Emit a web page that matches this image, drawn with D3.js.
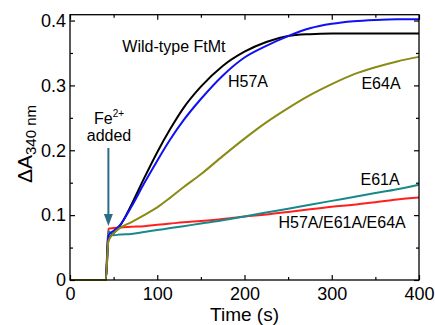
<!DOCTYPE html>
<html>
<head>
<meta charset="utf-8">
<script src="https://cdn.jsdelivr.net/npm/d3@7"></script>
<style>
  body { margin: 0; background: #fff; }
  text { font-family: "Liberation Sans", Arial, Helvetica, sans-serif; }
</style>
</head>
<body>
<svg id="chart" width="435" height="325"></svg>
<script>
// time (s) shared by all traces
const time = [0, 41, 44, 50, 57, 70, 85, 100, 115, 130, 150, 175, 200, 225, 250, 275, 300, 325, 350, 375, 400];

const wildType = [0, 0, 0.062, 0.072, 0.083, 0.115, 0.157, 0.197, 0.233, 0.265, 0.298, 0.330, 0.352, 0.367, 0.376, 0.379, 0.380, 0.380, 0.380, 0.380, 0.380];
const h57a     = [0, 0, 0.068, 0.076, 0.084, 0.112, 0.149, 0.184, 0.217, 0.246, 0.279, 0.315, 0.343, 0.361, 0.376, 0.388, 0.395, 0.399, 0.401, 0.402, 0.402];
const e64a     = [0, 0, 0.060, 0.072, 0.080, 0.089, 0.100, 0.112, 0.127, 0.143, 0.163, 0.191, 0.218, 0.243, 0.265, 0.285, 0.302, 0.317, 0.328, 0.337, 0.344];
const e61a     = [0, 0, 0.075, 0.069, 0.070, 0.071, 0.074, 0.077, 0.080, 0.083, 0.087, 0.092, 0.098, 0.104, 0.110, 0.116, 0.122, 0.128, 0.134, 0.140, 0.147];
const triple   = [0, 0, 0.079, 0.080, 0.081, 0.082, 0.083, 0.085, 0.087, 0.089, 0.091, 0.094, 0.098, 0.101, 0.105, 0.109, 0.113, 0.116, 0.120, 0.124, 0.127];

const xMajor = [0, 100, 200, 300, 400];
const xMinor = [50, 150, 250, 350];
const yMajor = [0, 0.1, 0.2, 0.3, 0.4];
const yMinor = [0.05, 0.15, 0.25, 0.35];

const series = [
  { name: "H57A/E61A/E64A", values: triple, color: "#ff1f1f" },
  { name: "E61A", values: e61a, color: "#17898a" },
  { name: "Wild-type FtMt", values: wildType, color: "#000000" },
  { name: "H57A", values: h57a, color: "#1010f5" },
  { name: "E64A", values: e64a, color: "#8a8a14" }
];

const svg = d3.select("#chart");
const plotL = 70, plotR = 419, plotT = 14.7, plotB = 280;

const x = d3.scaleLinear().domain([0, 400]).range([plotL, plotR]);
const y = d3.scaleLinear().domain([0, 0.409]).range([plotB, plotT]);

// traces
const line = d3.line()
  .x((d, i) => x(time[i]))
  .y(d => y(d))
  .curve(d3.curveMonotoneX);

svg.append("g")
  .selectAll("path")
  .data(series)
  .enter().append("path")
  .attr("d", d => line(d.values))
  .attr("fill", "none")
  .attr("stroke", d => d.color)
  .attr("stroke-width", 2);

// axes, ticks pointing inward on all four sides
function styleAxis(g) {
  g.select(".domain").remove();
  g.selectAll(".tick line").attr("stroke", "#000").attr("stroke-width", 1.2);
  g.selectAll("text").attr("font-size", 18).attr("fill", "#000")
    .attr("font-family", "Liberation Sans, Arial, sans-serif");
}

svg.append("g").attr("transform", `translate(0,${plotB})`)
  .call(d3.axisBottom(x).tickValues(xMajor).tickSize(-5).tickPadding(7).tickFormat(d3.format("d")))
  .call(styleAxis);
svg.append("g").attr("transform", `translate(0,${plotB})`)
  .call(d3.axisBottom(x).tickValues(xMinor).tickSize(-3).tickFormat(""))
  .call(styleAxis);
svg.append("g").attr("transform", `translate(0,${plotT})`)
  .call(d3.axisTop(x).tickValues(xMajor).tickSize(-5).tickFormat(""))
  .call(styleAxis);
svg.append("g").attr("transform", `translate(0,${plotT})`)
  .call(d3.axisTop(x).tickValues(xMinor).tickSize(-3).tickFormat(""))
  .call(styleAxis);

svg.append("g").attr("transform", `translate(${plotL},0)`)
  .call(d3.axisLeft(y).tickValues(yMajor).tickSize(-5).tickPadding(4).tickFormat(d => d === 0 ? "0" : d3.format(".1f")(d)))
  .call(styleAxis);
svg.append("g").attr("transform", `translate(${plotL},0)`)
  .call(d3.axisLeft(y).tickValues(yMinor).tickSize(-3).tickFormat(""))
  .call(styleAxis);
svg.append("g").attr("transform", `translate(${plotR},0)`)
  .call(d3.axisRight(y).tickValues(yMajor).tickSize(-5).tickFormat(""))
  .call(styleAxis);
svg.append("g").attr("transform", `translate(${plotR},0)`)
  .call(d3.axisRight(y).tickValues(yMinor).tickSize(-3).tickFormat(""))
  .call(styleAxis);

svg.append("rect")
  .attr("x", plotL).attr("y", plotT)
  .attr("width", plotR - plotL).attr("height", plotB - plotT)
  .attr("fill", "none").attr("stroke", "#000").attr("stroke-width", 1.3);

// axis titles
svg.append("text")
  .attr("x", (plotL + plotR) / 2).attr("y", 321)
  .attr("text-anchor", "middle").attr("font-size", 19)
  .text("Time (s)");

const yTitle = svg.append("text")
  .attr("transform", "translate(32,144) rotate(-90)")
  .attr("text-anchor", "middle");
yTitle.append("tspan").attr("font-size", 21).text("ΔA");
yTitle.append("tspan").attr("font-size", 15).attr("dy", 4).text("340 nm");

// curve labels
const labels = [
  { text: "Wild-type FtMt", t: 60, v: 0.352 },
  { text: "H57A", t: 181, v: 0.298 },
  { text: "E64A", t: 334, v: 0.295 },
  { text: "E61A", t: 333, v: 0.146 },
  { text: "H57A/E61A/E64A", t: 239, v: 0.080 }
];
svg.append("g")
  .selectAll("text")
  .data(labels)
  .enter().append("text")
  .attr("x", d => x(d.t)).attr("y", d => y(d.v))
  .attr("font-size", 16)
  .text(d => d.text);

// Fe2+ added annotation
const arrowColor = "#2b6d88";
const fe = svg.append("text").attr("x", 109).attr("y", 124).attr("text-anchor", "middle");
fe.append("tspan").attr("font-size", 16).text("Fe");
fe.append("tspan").attr("font-size", 10).attr("dy", -7).text("2+");
svg.append("text").attr("x", 109).attr("y", 141).attr("text-anchor", "middle")
  .attr("font-size", 16).text("added");

const arrowT = 44;
svg.append("line")
  .attr("x1", x(arrowT)).attr("x2", x(arrowT))
  .attr("y1", 148).attr("y2", 216)
  .attr("stroke", arrowColor).attr("stroke-width", 2);
svg.append("path")
  .attr("d", `M${x(arrowT) - 4.5},214 L${x(arrowT) + 4.5},214 L${x(arrowT)},226 Z`)
  .attr("fill", arrowColor);
</script>
</body>
</html>
